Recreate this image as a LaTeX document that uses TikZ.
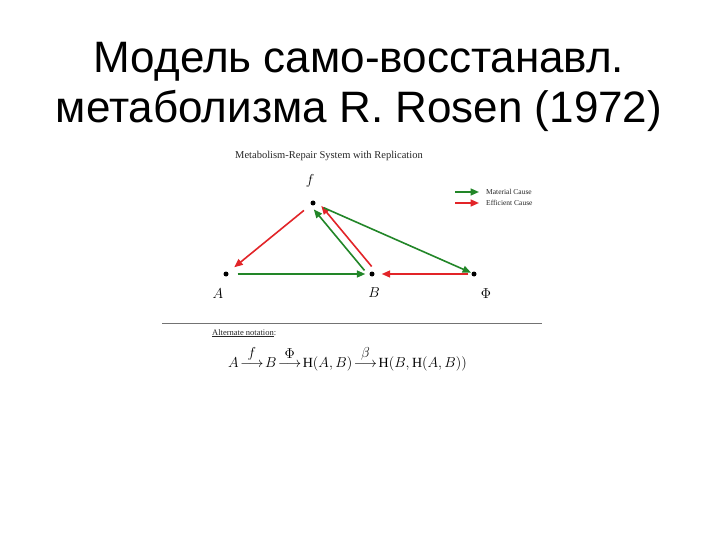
\documentclass[tikz,border=0pt]{standalone}
\usepackage{fontspec}
\setmainfont{Liberation Serif}
\newfontfamily\titlefont{Liberation Sans}
\usepackage{amsmath}
\usepackage{xcolor}
\usetikzlibrary{arrows.meta, positioning}
\definecolor{matgreen}{RGB}{34,134,40}
\definecolor{effred}{RGB}{226,36,40}
\newcommand{\causeto}[1]{\!\overset{\textstyle #1}{\longrightarrow}\!}

\begin{document}
\begin{tikzpicture}[x=1pt, y=-1pt,
      dot/.style = {circle, fill=black, inner sep=0pt, minimum size=5pt},
      lab/.style = {inner sep=0pt, font=\fontsize{14}{16}\selectfont},
      small/.style = {inner sep=0pt, text=black!85},
      mat/.style = {draw=matgreen, line width=1.6pt, -{Triangle[length=8.5pt,width=7pt]}},
      eff/.style = {draw=effred, line width=1.6pt, -{Triangle[length=8.5pt,width=7pt]}}]
      \useasboundingbox[fill=white] (0,0) rectangle (720,540);

      % title
      \node[anchor=base, inner sep=0pt, font=\titlefont\fontsize{44}{50}\selectfont] (t1) at (359,73) {Модель само-восстанавл.};
      \node[anchor=base, inner sep=0pt, font=\titlefont\fontsize{44}{50}\selectfont] (t2) at (359,123) {метаболизма R. Rosen (1972)};

      \node[small, font=\fontsize{10.5}{12}\selectfont] (head) at (329,156) {Metabolism-Repair System with Replication};

      % the four states
      \node[dot] (f) at (313,203) {};
      \node[dot] (A) at (226,274) {};
      \node[dot] (B) at (372,274) {};
      \node[dot] (Phi) at (474,274) {};

      \node[lab] (lf) at (310,181) {$f$};
      \node[lab] (lA) at (218,294) {$A$};
      \node[lab] (lB) at (374,293) {$B$};
      \node[lab] (lPhi) at (486,294) {$\Phi$};

      \coordinate (Bg) at ([xshift=-2.7pt, yshift=-2.2pt]B);
      \coordinate (fg) at ([xshift=-2.7pt, yshift=-2.2pt]f);
      \coordinate (Br) at ([xshift=3.5pt, yshift=2.9pt]B);
      \coordinate (fr) at ([xshift=3.5pt, yshift=2.9pt]f);

      \path
      (f) edge[eff, shorten <=9pt, shorten >=8pt] (A)
      (A) edge[mat, shorten <=9pt, shorten >=4pt] (B)
      (Bg) edge[mat, shorten <=7.5pt, shorten >=5.5pt] (fg)
      (Br) edge[eff, shorten <=6pt, shorten >=7.5pt] (fr)
      (Phi) edge[eff, shorten <=3pt, shorten >=7pt] (B)
      (f) edge[mat, shorten <=9pt, shorten >=0.5pt] (Phi);

      % legend
      \coordinate (m1) at (455,192);
      \coordinate (m2) at (479,192);
      \coordinate (e1) at (455,203);
      \coordinate (e2) at (479,203);
      \path (m1) edge[mat] (m2)
            (e1) edge[eff] (e2);
      \node[small, anchor=west, font=\fontsize{7.5}{9}\selectfont] (lm) at (486,192) {Material Cause};
      \node[small, anchor=west, font=\fontsize{7.5}{9}\selectfont] (le) at (486,203) {Efficient Cause};

      % alternate notation
      \draw[black!55, line width=0.8pt] (162,323) -- (542,323);
      \node[small, anchor=west, font=\fontsize{8.5}{10}\selectfont] (alt) at (212,333) {\underline{Alternate notation}:};
      \node[anchor=base, inner sep=0pt, font=\fontsize{14}{16}\selectfont] (chain) at (347.5,367)
        {$A \causeto{f} B \causeto{\Phi} \mathrm{H}(A,B) \causeto{\beta} \mathrm{H}(B,\mathrm{H}(A,B))$};
    \end{tikzpicture}
\end{document}
